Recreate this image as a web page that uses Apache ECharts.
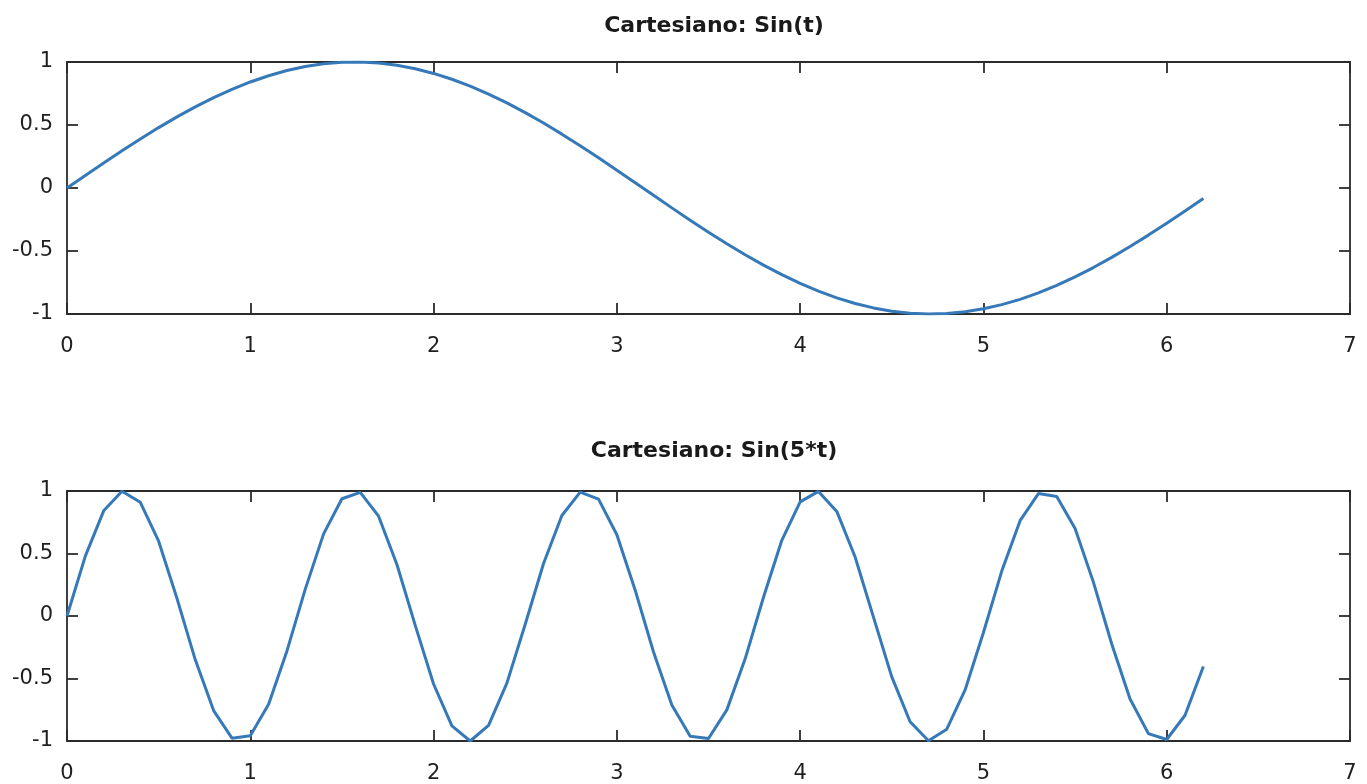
<!DOCTYPE html>
<html>
<head>
<meta charset="utf-8">
<script src="https://cdn.jsdelivr.net/npm/echarts@6/dist/echarts.min.js"></script>
<style>
  html, body { margin: 0; padding: 0; background: #fff; }
  #main { width: 1367px; height: 784px; }
</style>
</head>
<body>
<div id="main"></div>
<script>
// sample times t = 0 : 0.1 : 6.2
const tValues = [
  0.0, 0.1, 0.2, 0.3, 0.4, 0.5, 0.6, 0.7, 0.8, 0.9,
  1.0, 1.1, 1.2, 1.3, 1.4, 1.5, 1.6, 1.7, 1.8, 1.9,
  2.0, 2.1, 2.2, 2.3, 2.4, 2.5, 2.6, 2.7, 2.8, 2.9,
  3.0, 3.1, 3.2, 3.3, 3.4, 3.5, 3.6, 3.7, 3.8, 3.9,
  4.0, 4.1, 4.2, 4.3, 4.4, 4.5, 4.6, 4.7, 4.8, 4.9,
  5.0, 5.1, 5.2, 5.3, 5.4, 5.5, 5.6, 5.7, 5.8, 5.9,
  6.0, 6.1, 6.2
]
// Sin(t)
const sinT = [
  0, 0.0998, 0.1987, 0.2955, 0.3894, 0.4794, 0.5646, 0.6442, 0.7174, 0.7833,
  0.8415, 0.8912, 0.9320, 0.9636, 0.9854, 0.9975, 0.9996, 0.9917, 0.9738, 0.9463,
  0.9093, 0.8632, 0.8085, 0.7457, 0.6755, 0.5985, 0.5155, 0.4274, 0.3350, 0.2392,
  0.1411, 0.0416, -0.0584, -0.1577, -0.2555, -0.3508, -0.4425, -0.5298, -0.6119, -0.6878,
  -0.7568, -0.8183, -0.8716, -0.9162, -0.9516, -0.9775, -0.9937, -0.9999, -0.9962, -0.9825,
  -0.9589, -0.9258, -0.8835, -0.8323, -0.7728, -0.7055, -0.6313, -0.5507, -0.4646, -0.3739,
  -0.2794, -0.1822, -0.0831
]
// Sin(5*t)
const sin5T = [
  0, 0.4794, 0.8415, 0.9975, 0.9093, 0.5985, 0.1411, -0.3508, -0.7568, -0.9775,
  -0.9589, -0.7055, -0.2794, 0.2151, 0.6570, 0.9380, 0.9894, 0.7985, 0.4121, -0.0752,
  -0.5440, -0.8797, -1.0000, -0.8755, -0.5366, -0.0663, 0.4202, 0.8038, 0.9906, 0.9349,
  0.6503, 0.2065, -0.2879, -0.7122, -0.9614, -0.9802, -0.7510, -0.3425, 0.1499, 0.6055,
  0.9129, 0.9968, 0.8367, 0.4716, -0.0089, -0.4872, -0.8462, -0.9981, -0.9056, -0.5914,
  -0.1324, 0.3591, 0.7626, 0.9794, 0.9564, 0.6999, 0.2709, -0.2238, -0.6636, -0.9410,
  -0.9880, -0.7939, -0.4040
]
const chartTitles = ['Cartesiano: Sin(t)', 'Cartesiano: Sin(5*t)']

const lineColor = '#3579b8'
const axisColor = '#2b2b2b'
const labelColor = '#1f1f1f'
const fontFamily = 'DejaVu Sans, sans-serif'

function pairs(ys) {
  return tValues.map((t, i) => [t, ys[i]])
}

function xAxisFor(gridIndex, position, showLabel) {
  return {
    type: 'value',
    gridIndex,
    position,
    min: 0,
    max: 7,
    interval: 1,
    axisLine: { show: true, onZero: false, lineStyle: { color: axisColor, width: 1.8 } },
    axisTick: { show: true, inside: true, length: 11, lineStyle: { color: axisColor, width: 1.8 } },
    axisLabel: { show: showLabel, color: labelColor, fontSize: 21, fontFamily, margin: 22 },
    splitLine: { show: false }
  }
}

function yAxisFor(gridIndex, position, showLabel) {
  return {
    type: 'value',
    gridIndex,
    position,
    min: -1,
    max: 1,
    interval: 0.5,
    axisLine: { show: true, onZero: false, lineStyle: { color: axisColor, width: 1.8 } },
    axisTick: { show: true, inside: true, length: 11, lineStyle: { color: axisColor, width: 1.8 } },
    axisLabel: { show: showLabel, color: labelColor, fontSize: 21, fontFamily, margin: 14, padding: [6, 0, 0, 0] },
    splitLine: { show: false }
  }
}

const chart = echarts.init(document.getElementById('main'))
chart.setOption({
  animation: false,
  title: [
    {
      text: chartTitles[0], left: 709, top: 10, textAlign: 'center',
      textStyle: { fontSize: 22, fontWeight: 'bold', color: '#1a1a1a', fontFamily }
    },
    {
      text: chartTitles[1], left: 709, top: 435, textAlign: 'center',
      textStyle: { fontSize: 22, fontWeight: 'bold', color: '#1a1a1a', fontFamily }
    }
  ],
  grid: [
    { left: 67, right: 17, top: 62, height: 252 },
    { left: 67, right: 17, top: 491, height: 250 }
  ],
  xAxis: [
    xAxisFor(0, 'bottom', true),
    xAxisFor(0, 'top', false),
    xAxisFor(1, 'bottom', true),
    xAxisFor(1, 'top', false)
  ],
  yAxis: [
    yAxisFor(0, 'left', true),
    yAxisFor(0, 'right', false),
    yAxisFor(1, 'left', true),
    yAxisFor(1, 'right', false)
  ],
  series: [
    {
      name: chartTitles[0],
      type: 'line',
      xAxisIndex: 0,
      yAxisIndex: 0,
      showSymbol: false,
      lineStyle: { color: lineColor, width: 3 },
      data: pairs(sinT)
    },
    {
      name: chartTitles[1],
      type: 'line',
      xAxisIndex: 2,
      yAxisIndex: 2,
      showSymbol: false,
      lineStyle: { color: lineColor, width: 3 },
      data: pairs(sin5T)
    }
  ]
})
</script>
</body>
</html>
